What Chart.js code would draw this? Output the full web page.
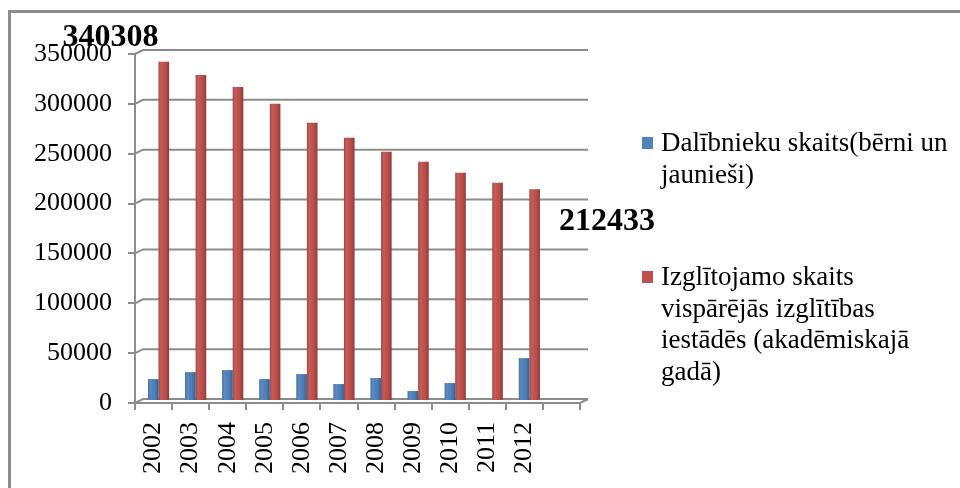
<!DOCTYPE html>
<html>
<head>
<meta charset="utf-8">
<script src="https://cdn.jsdelivr.net/npm/chart.js@4/dist/chart.umd.min.js"></script>
<style>
  html, body { margin: 0; padding: 0; background: #fff; }
  body { width: 960px; height: 488px; position: relative; overflow: hidden; font-family: "Liberation Serif", "Times New Roman", serif; }
  #grafiks { position: absolute; left: 0; top: 0; }
  #ramis { position: absolute; left: 8px; top: 10px; width: 980px; height: 500px; border-top: 3px solid #8c8c8c; border-left: 3px solid #8c8c8c; pointer-events: none; }
  .leg { position: absolute; left: 642px; width: 312px; font-size: 27px; line-height: 31.5px; color: #000; }
  .leg .kv { position: absolute; left: 0; top: 10px; width: 11px; height: 12px; }
  .leg .teksts { margin-left: 19px; width: 292px; }
</style>
</head>
<body>
<canvas id="grafiks" width="960" height="488"></canvas>
<div id="ramis"></div>
<div id="legenda"></div>
<script>
// dati nolasīti no attēla
const gadi = ["2002", "2003", "2004", "2005", "2006", "2007", "2008", "2009", "2010", "2011", "2012"];
const kategorijas = [...gadi, ""]; // ass turpinās vēl vienu tukšu vietu
const dalibnieki = [22000, 29000, 31000, 22000, 27000, 17000, 23000, 10000, 18000, null, 43000];
const izglitojamie = [340308, 327000, 315000, 298000, 279000, 264000, 250000, 240000, 229000, 219000, 212433];
const nosaukumi = [
  "Dalībnieku skaits(bērni un jaunieši)",
  "Izglītojamo skaits vispārējās izglītības iestādēs (akadēmiskajā gadā)"
];
const krasas = ["#4f81bd", "#c0504d"];
const yMax = 350000;
const ySolis = 50000;

const pelēks = "#8c8c8c";
const fonts = "'Liberation Serif', 'Times New Roman', serif";
const dzilums = { dx: 8, dy: 4 };    // 3D sienas nobīde
const nobide = { dx: 5, dy: -2 };    // stabiņi stāv dziļāk

// aizmugurējā siena ar režģa līnijām
const siena = {
  id: "siena",
  beforeDraw(chart) {
    const { ctx, chartArea: a, scales: { y } } = chart;
    ctx.save();
    ctx.strokeStyle = pelēks;
    ctx.lineWidth = 2;
    y.ticks.forEach(t => {
      const py = y.getPixelForValue(t.value);
      ctx.beginPath();
      ctx.moveTo(a.left, py);
      ctx.lineTo(a.left + dzilums.dx, py - dzilums.dy);
      ctx.lineTo(a.right + dzilums.dx, py - dzilums.dy);
      ctx.stroke();
    });
    ctx.beginPath();
    ctx.moveTo(a.right, a.bottom);
    ctx.lineTo(a.right + dzilums.dx, a.bottom - dzilums.dy);
    ctx.stroke();
    ctx.restore();
  }
};

// stabiņi nobīdīti un ar cilindra ēnojumu
const cilindri = {
  id: "cilindri",
  beforeDatasetsDraw(chart) {
    chart.ctx.save();
    chart.ctx.translate(nobide.dx, nobide.dy);
  },
  afterDatasetsDraw(chart) {
    const ctx = chart.ctx;
    chart.data.datasets.forEach((ds, i) => {
      chart.getDatasetMeta(i).data.forEach(el => {
        if (el.skip || el.y == null || isNaN(el.y)) return;
        const x0 = el.x - el.width / 2, x1 = el.x + el.width / 2;
        const g = ctx.createLinearGradient(x0, 0, x1, 0);
        g.addColorStop(0, "rgba(0,0,0,0.15)");
        g.addColorStop(0.3, "rgba(255,255,255,0.08)");
        g.addColorStop(0.6, "rgba(0,0,0,0)");
        g.addColorStop(1, "rgba(0,0,0,0.25)");
        ctx.fillStyle = g;
        ctx.fillRect(x0, el.y, el.width, el.base - el.y);
      });
    });
    ctx.restore();
  }
};

// pirmās un pēdējās vērtības uzraksti
const uzraksti = {
  id: "uzraksti",
  afterDraw(chart) {
    const ctx = chart.ctx;
    const meta = chart.getDatasetMeta(1);
    const pirmais = meta.data[0];
    const pedejais = meta.data[izglitojamie.length - 1];
    ctx.save();
    ctx.font = "bold 32px " + fonts;
    ctx.fillStyle = "#000";
    ctx.textBaseline = "alphabetic";
    ctx.textAlign = "right";
    ctx.fillText(String(izglitojamie[0]), pirmais.x - pirmais.width / 2 + nobide.dx, pirmais.y + nobide.dy - 16);
    ctx.textAlign = "left";
    ctx.fillText(String(izglitojamie[izglitojamie.length - 1]), pedejais.x + pedejais.width / 2 + nobide.dx + 19, pedejais.y + nobide.dy + 41);
    ctx.restore();
  }
};

new Chart(document.getElementById("grafiks"), {
  type: "bar",
  data: {
    labels: kategorijas,
    datasets: [
      { label: nosaukumi[0], data: dalibnieki, backgroundColor: krasas[0], borderWidth: 0 },
      { label: nosaukumi[1], data: izglitojamie, backgroundColor: krasas[1], borderWidth: 0 }
    ]
  },
  options: {
    responsive: false,
    animation: false,
    layout: { padding: { left: 0, top: 54, right: 380, bottom: 0 } },
    datasets: { bar: { barPercentage: 1, categoryPercentage: 0.57 } },
    plugins: { legend: { display: false }, tooltip: { enabled: false } },
    scales: {
      x: {
        afterFit: s => { s.height = 85; },
        border: { display: true, color: pelēks, width: 2 },
        grid: { offset: true, drawOnChartArea: false, drawTicks: true, tickLength: 7, color: pelēks, lineWidth: 2 },
        ticks: { color: "#000", font: { family: fonts, size: 26 }, minRotation: 90, maxRotation: 90, autoSkip: false, padding: 12 }
      },
      y: {
        min: 0,
        max: yMax,
        afterFit: s => { s.width = 135; },
        border: { display: true, color: pelēks, width: 2 },
        grid: { drawOnChartArea: false, drawTicks: true, tickLength: 7, color: pelēks, lineWidth: 2 },
        ticks: { stepSize: ySolis, color: "#000", font: { family: fonts, size: 26 }, padding: 16, callback: v => String(v) }
      }
    }
  },
  plugins: [siena, cilindri, uzraksti]
});

// leģenda
const legendasVietas = [127, 261];
const legenda = document.getElementById("legenda");
nosaukumi.forEach((n, i) => {
  const d = document.createElement("div");
  d.className = "leg";
  d.style.top = legendasVietas[i] + "px";
  d.innerHTML = `<span class="kv" style="background:${krasas[i]}"></span><div class="teksts">${n}</div>`;
  legenda.appendChild(d);
});
</script>
</body>
</html>
